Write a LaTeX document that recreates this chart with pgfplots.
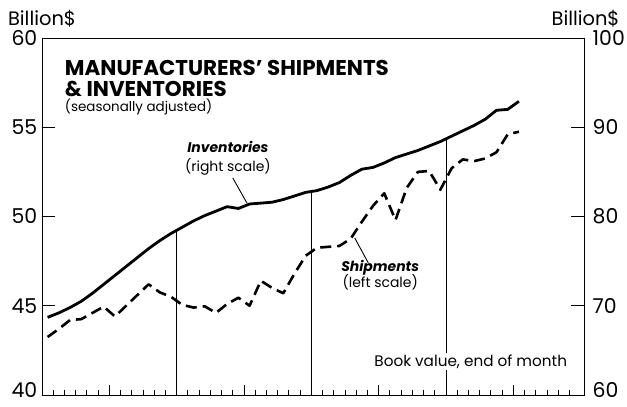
\documentclass[border=0pt]{standalone}
\usepackage{pgfplots}
\pgfplotsset{compat=1.18}
\usepackage{pgfplotstable}
\usepackage{fontspec}
\setmainfont{Poppins}
\pgfplotstableread{
m v
0.5 68.7
1.5 69.2
2.5 69.8
3.5 70.5
4.5 71.4
5.5 72.4
6.5 73.4
7.5 74.4
8.5 75.4
9.5 76.4
10.5 77.3
11.5 78.1
12.5 78.8
13.5 79.5
14.5 80.1
15.5 80.6
16.5 81.1
17.5 80.9
18.5 81.4
19.5 81.5
20.5 81.6
21.5 81.9
22.5 82.3
23.5 82.7
24.5 82.9
25.5 83.3
26.5 83.8
27.5 84.6
28.5 85.3
29.5 85.5
30.5 86.0
31.5 86.6
32.5 87.0
33.5 87.4
34.5 87.9
35.5 88.4
36.5 89.0
37.5 89.6
38.5 90.2
39.5 90.9
40.5 91.9
41.5 92.0
42.5 92.9
}\inventories
\pgfplotstableread{
m v
0.5 43.25
1.5 43.7
2.5 44.2
3.5 44.25
4.5 44.6
5.5 44.95
6.5 44.4
7.5 45.0
8.5 45.6
9.5 46.2
10.5 45.75
11.5 45.5
12.5 45.05
13.5 44.9
14.5 44.97
15.5 44.6
16.5 45.1
17.5 45.45
18.5 45.0
19.5 46.4
20.5 46.0
21.5 45.7
22.5 46.8
23.5 47.8
24.5 48.25
25.5 48.3
26.5 48.35
27.5 48.75
28.5 49.7
29.5 50.6
30.5 51.3
31.5 49.8
32.5 51.6
33.5 52.5
34.5 52.55
35.5 51.5
36.5 52.7
37.5 53.2
38.5 53.1
39.5 53.25
40.5 53.6
41.5 54.6
42.5 54.75
}\shipments
\begin{document}
\begin{tikzpicture}
% left axis: frame, left scale, shipments
\begin{axis}[
  scale only axis, width=542bp, height=357bp,
  xmin=0, xmax=48.3, ymin=40, ymax=60,
  axis line style={line width=0.8bp},
  xtick=\empty,
  ytick={45,50,55,60}, ytick pos=left,
  extra y ticks={40},
  extra y tick style={yticklabel style={yshift=5bp}},
  tick align=inside, major tick length=13bp,
  tick style={line width=0.8bp, black},
  yticklabel style={font=\fontsize{20.5}{20.5}\selectfont, inner sep=0pt, xshift=-4.5bp},
  /pgf/number format/assume math mode=true,
  clip=false,
]
\coordinate (SW) at (rel axis cs:0,0);
\coordinate (NE) at (rel axis cs:1,1);
\addplot[line width=0.7bp] coordinates {(12,40) (12,49.23)};
\addplot[line width=0.7bp] coordinates {(24,40) (24,51.4)};
\addplot[line width=0.7bp] coordinates {(36,40) (36,54.35)};
\addplot[line width=2.6bp, dash pattern=on 11bp off 6bp, line join=round] table[x=m,y=v]{\shipments};
\node[anchor=base west, font=\bfseries\fontsize{21.5}{21.5}\selectfont, inner sep=0pt] at (rel axis cs:0.042,0.896) {MANUFACTURERS’ SHIPMENTS};
\node[anchor=base west, font=\bfseries\fontsize{21.5}{21.5}\selectfont, inner sep=0pt] at (rel axis cs:0.042,0.8375) {\& INVENTORIES};
\node[anchor=base west, font=\fontsize{13.5}{13.5}\selectfont, inner sep=0pt] at (rel axis cs:0.042,0.793) {(seasonally adjusted)};
\node[anchor=base, font=\bfseries\itshape\fontsize{14}{14}\selectfont, inner sep=0pt] at (rel axis cs:0.343,0.678) {Inventories};
\node[anchor=base, font=\fontsize{14}{14}\selectfont, inner sep=0pt] at (rel axis cs:0.343,0.625) {(right scale)};
\draw[line width=0.9bp] (rel axis cs:0.352,0.608) -- (rel axis cs:0.378,0.538);
\node[anchor=base, font=\bfseries\itshape\fontsize{14}{14}\selectfont, inner sep=0pt] at (rel axis cs:0.624,0.347) {Shipments};
\node[anchor=base, font=\fontsize{14}{14}\selectfont, inner sep=0pt] at (rel axis cs:0.624,0.300) {(left scale)};
\draw[line width=0.9bp] (rel axis cs:0.577,0.44) -- (rel axis cs:0.602,0.37);
\node[anchor=base, font=\fontsize{15.3}{15.3}\selectfont, fill=white, inner sep=1.5bp] at (rel axis cs:0.791,0.081) {Book value, end of month};
\node[anchor=base west, font=\fontsize{19.5}{19.5}\selectfont, inner sep=0pt] at (rel axis cs:-0.063,1.036) {Billion\$};
\end{axis}
% right axis: inventories
\begin{axis}[
  scale only axis, width=542bp, height=357bp,
  xmin=0, xmax=48.3, ymin=60, ymax=100,
  axis y line*=right, axis x line=none,
  axis line style={line width=0.8bp},
  ytick={70,80,90,100},
  extra y ticks={60},
  extra y tick style={yticklabel style={yshift=5bp}},
  tick align=inside, major tick length=13bp,
  tick style={line width=0.8bp, black},
  yticklabel style={font=\fontsize{20.5}{20.5}\selectfont, inner sep=0pt, xshift=8.5bp},
  /pgf/number format/assume math mode=true,
  clip=false,
]
\addplot[line width=2.8bp, line join=round] table[x=m,y=v]{\inventories};
\node[anchor=base east, font=\fontsize{19.5}{19.5}\selectfont, inner sep=0pt] at (rel axis cs:1.066,1.036) {Billion\$};
\end{axis}
% x ticks
\begin{axis}[
  scale only axis, width=542bp, height=357bp,
  xmin=0, xmax=48.3, ymin=0, ymax=1,
  axis x line*=bottom, axis y line=none,
  axis line style={line width=0.8bp},
  xtick={6,18,30,42}, xticklabels={},
  minor xtick={1,2,3,4,5,7,8,9,10,11,13,14,15,16,17,19,20,21,22,23,25,26,27,28,29,31,32,33,34,35,37,38,39,40,41,43,44,45,46,47},
  tick align=inside, major tick length=10bp, minor tick length=5bp,
  tick style={line width=0.8bp, black},
]
\end{axis}
\pgfresetboundingbox
\path[use as bounding box] ([xshift=-42bp,yshift=-12bp]SW) rectangle ([xshift=43bp,yshift=38bp]NE);
\end{tikzpicture}
\end{document}
